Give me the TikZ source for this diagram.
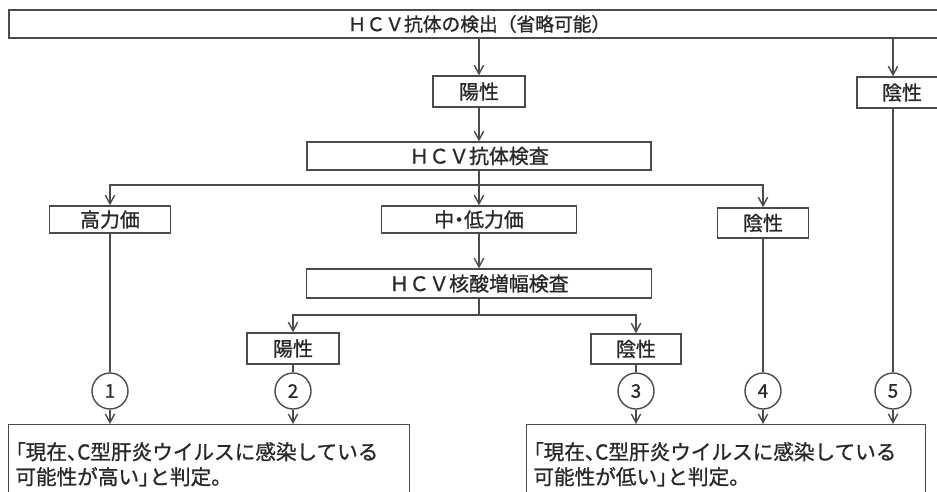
\documentclass[tikz,border=0pt]{standalone}
\usepackage{fontspec}
\setmainfont{Noto Sans CJK JP}[FakeBold=1]
\newfontfamily\pfont{Noto Sans CJK JP}[FakeBold=1,RawFeature=+palt]
\usetikzlibrary{arrows.meta}
\definecolor{linec}{RGB}{75,75,75}
\definecolor{textc}{RGB}{40,40,40}
\begin{document}
\begin{tikzpicture}[x=0.03cm,y=-0.03cm,line width=1.2pt,
    box/.style={draw=linec,text=textc,inner sep=0pt,font=\fontsize{17}{20}\selectfont},
    num/.style={draw=linec,text=textc,circle,minimum size=1.08cm,inner sep=0pt,font=\fontsize{16}{18}\selectfont},
    judge/.style={draw=linec,text=textc,anchor=north west,align=left,inner xsep=0.2cm,inner ysep=0pt,
        minimum height=2.37cm,font=\fontsize{17.6}{21.3}\selectfont},
    arr/.style={-{Straight Barb[length=2.6mm,width=2.8mm]}}]
    \useasboundingbox (0,0) rectangle (937,491);
    \clip (0,0) rectangle (937,491);
    % boxes
    \node[box,minimum width=28.2cm,minimum height=0.84cm,font=\fontsize{16}{18}\selectfont] (top) at (479,24) {ＨＣＶ抗体の検出（省略可能）};
    \node[box,minimum width=2.76cm,minimum height=0.93cm] (pos1) at (479,91.5) {陽性};
    \node[box,minimum width=2.7cm,minimum height=0.93cm] (negR) at (902,92.5) {陰性};
    \node[box,minimum width=10.32cm,minimum height=0.84cm] (abk) at (479,156) {ＨＣＶ抗体検査};
    \node[box,minimum width=3.63cm,minimum height=0.81cm] (high) at (110,219.5) {高力価};
    \node[box,minimum width=5.85cm,minimum height=0.81cm] (mid) at (479,219.5) {中{\pfont ・}低力価};
    \node[box,minimum width=2.73cm,minimum height=0.9cm] (negM) at (763,223) {陰性};
    \node[box,minimum width=10.35cm,minimum height=0.87cm] (nat) at (479,283.5) {ＨＣＶ核酸増幅検査};
    \node[box,minimum width=2.76cm,minimum height=0.93cm] (posL) at (293,348.5) {陽性};
    \node[box,minimum width=2.7cm,minimum height=0.9cm] (negL) at (636,349) {陰性};
    % numbered circles
    \foreach \x/\n in {110/1,293/2,636/3,763/4,893/5} {
        \node[num] (c\n) at (\x,391) {\n};
    }
    % results
    \node[judge,text width=11.63cm] (judgeH) at (8,424) {{\pfont 「}現在{\pfont 、}C型肝炎ウイルスに感染している\\可能性が高い{\pfont 」}と判定。};
    \node[judge,text width=11.57cm] (judgeL) at (526,424) {{\pfont 「}現在{\pfont 、}C型肝炎ウイルスに感染している\\可能性が低い{\pfont 」}と判定。};
    % connectors
    \coordinate (split1) at (479,185);
    \coordinate (split2) at (479,315);
    \draw[linec,arr] (top) -- (pos1);
    \draw[linec,arr] (top.south -| c5) -- (negR.north -| c5);
    \draw[linec,arr] (pos1) -- (abk);
    \draw[linec,arr] (abk) -- (mid);
    \draw[linec,arr] (split1) -| (high);
    \draw[linec,arr] (split1) -| (negM);
    \draw[linec,arr] (mid) -- (nat);
    \draw[linec] (nat) -- (split2);
    \draw[linec,arr] (split2) -| (posL);
    \draw[linec,arr] (split2) -| (negL);
    \draw[linec] (high) -- (c1);
    \draw[linec] (posL) -- (c2);
    \draw[linec] (negL) -- (c3);
    \draw[linec] (negM) -- (c4);
    \draw[linec] (negR.south -| c5) -- (c5);
    \draw[linec,arr] (c1) -- (c1 |- judgeH.north);
    \draw[linec,arr] (c2) -- (c2 |- judgeH.north);
    \draw[linec,arr] (c3) -- (c3 |- judgeL.north);
    \draw[linec,arr] (c4) -- (c4 |- judgeL.north);
    \draw[linec,arr] (c5) -- (c5 |- judgeL.north);
\end{tikzpicture}
\end{document}
